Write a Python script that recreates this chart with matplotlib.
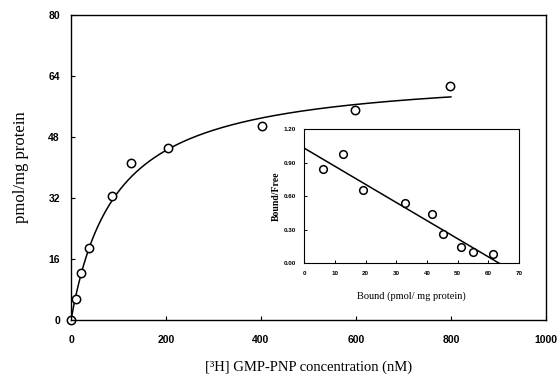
import numpy as np
import matplotlib
matplotlib.use("Agg")
import matplotlib.pyplot as plt

# saturation binding, [3H] GMP-PNP (nM) vs bound (pmol/mg protein)
conc = [0, 10, 21, 38, 86, 126, 204, 402, 598, 798]
bound = [0, 5.5, 12.2, 19.0, 32.6, 41.2, 45.0, 50.9, 55.0, 61.4]
bmax = 65.4
kd = 94.0

# Scatchard transform
sc_bound = [6.0, 12.8, 19.2, 32.8, 41.5, 45.1, 51.1, 55.1, 61.4]
sc_ratio = [0.84, 0.98, 0.65, 0.54, 0.44, 0.26, 0.14, 0.10, 0.08]
sc_icpt = 1.03
sc_slope = -1 / 61.5
sc_xmax = 64.0

main_xticks = [0, 200, 400, 600, 800, 1000]
main_yticks = [0, 16, 32, 48, 64, 80]
ins_xticks = [0, 10, 20, 30, 40, 50, 60, 70]
ins_yticks = [0.0, 0.3, 0.6, 0.9, 1.2]

serif = "Liberation Serif"
sans = "Liberation Sans"

fig = plt.figure(figsize=(5.57, 3.89), dpi=100)
ax = fig.add_axes([0.1275, 0.1774, 0.8525, 0.784])

xs = np.linspace(0, 800, 300)
ax.plot(xs, bmax * xs / (kd + xs), color="black", lw=1.1)
ax.plot(conc, bound, "o", mfc="white", mec="black", mew=1.1, ms=6, clip_on=False)
ax.set_xlim(0, 1000)
ax.set_ylim(0, 80)
ax.set_xticks(main_xticks)
ax.set_yticks(main_yticks)
ax.tick_params(direction="in", length=3, width=0.8, labelsize=7.5, pad=11)
ax.tick_params(axis="y", pad=8)
for lab in ax.get_xticklabels() + ax.get_yticklabels():
    lab.set_fontweight("bold")
    lab.set_family(sans)
for sp in ax.spines.values():
    sp.set_linewidth(1.0)
ax.set_ylabel("pmol/mg protein", family=serif, fontsize=12, labelpad=14)
ax.set_xlabel("[³H] GMP-PNP concentration (nM)", family=serif,
              fontsize=10.5, labelpad=11)

ins = fig.add_axes([0.546, 0.324, 0.386, 0.344])
xl = np.array([0, sc_xmax])
ins.plot(xl, sc_icpt + sc_slope * xl, color="black", lw=1.1)
ins.plot(sc_bound, sc_ratio, "o", mfc="white", mec="black", mew=1.1, ms=5.5)
ins.set_xlim(0, 70)
ins.set_ylim(0, 1.2)
ins.set_xticks(ins_xticks)
ins.set_yticks(ins_yticks)
ins.set_yticklabels([f"{v:.2f}" for v in ins_yticks])
ins.tick_params(direction="in", length=2, width=0.7, labelsize=4.5, pad=6)
for lab in ins.get_xticklabels() + ins.get_yticklabels():
    lab.set_fontweight("bold")
    lab.set_family(sans)
ins.set_ylabel("Bound/Free", family=serif, fontsize=7, fontweight="bold", labelpad=2)
ins.set_xlabel("Bound (pmol/ mg protein)", family=serif, fontsize=7.5, labelpad=11)

fig.savefig("out.png", dpi=100)
